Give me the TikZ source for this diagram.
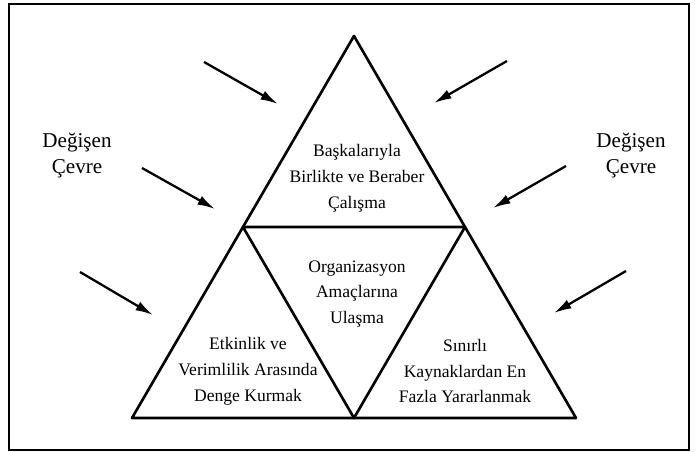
\documentclass[tikz,border=0pt]{standalone}
\usepackage{fontspec}
\setmainfont{Liberation Serif}
\usetikzlibrary{arrows.meta}

\begin{document}
\begin{tikzpicture}[
  box/.style={align=center, font=\fontsize{10}{14.7}\selectfont},
  env/.style={align=center, font=\fontsize{12}{14.8}\selectfont},
  push/.style={-{Latex[length=10pt,width=5.5pt]}, line width=1.3pt},
  tri/.style={line width=1.5pt, line join=round}]
\useasboundingbox (0,0) rectangle (13.9,9.04);
\draw[line width=0.9pt] (0.18,0.04) rectangle (13.78,8.96);
% corners of the triangle
\coordinate (A) at (7.08,8.32);
\coordinate (L) at (4.86,4.5);
\coordinate (R) at (9.3,4.5);
\coordinate (BL) at (2.64,0.68);
\coordinate (BM) at (7.08,0.68);
\coordinate (BR) at (11.52,0.68);
\draw[tri] (BL) -- (A) -- (BR) -- cycle;
\draw[tri] (L) -- (R) -- (BM) -- cycle;
% texts
\node[box] (top) at (7.14,5.48) {Başkalarıyla\\Birlikte ve Beraber\\Çalışma};
\node[box] (mid) at (7.14,3.16) {Organizasyon\\Amaçlarına\\Ulaşma};
\node[box] (left) at (4.96,1.62) {Etkinlik ve\\Verimlilik Arasında\\Denge Kurmak};
\node[box] (right) at (9.3,1.62) {Sınırlı\\Kaynaklardan En\\Fazla Yararlanmak};
\node[env] (envL) at (1.54,5.92) {Değişen\\Çevre};
\node[env] (envR) at (12.62,5.92) {Değişen\\Çevre};
% arrows from the environment
\coordinate (a1) at (4.08,7.8);   \coordinate (b1) at (5.56,6.96);
\coordinate (a2) at (10.14,7.82); \coordinate (b2) at (8.68,6.98);
\coordinate (a3) at (2.84,5.68);  \coordinate (b3) at (4.3,4.86);
\coordinate (a4) at (11.32,5.72); \coordinate (b4) at (9.86,4.88);
\coordinate (a5) at (1.6,3.6);    \coordinate (b5) at (3.06,2.74);
\coordinate (a6) at (12.52,3.62); \coordinate (b6) at (11.08,2.78);
\draw[push] (a1) -- (b1);
\draw[push] (a2) -- (b2);
\draw[push] (a3) -- (b3);
\draw[push] (a4) -- (b4);
\draw[push] (a5) -- (b5);
\draw[push] (a6) -- (b6);
\end{tikzpicture}
\end{document}
